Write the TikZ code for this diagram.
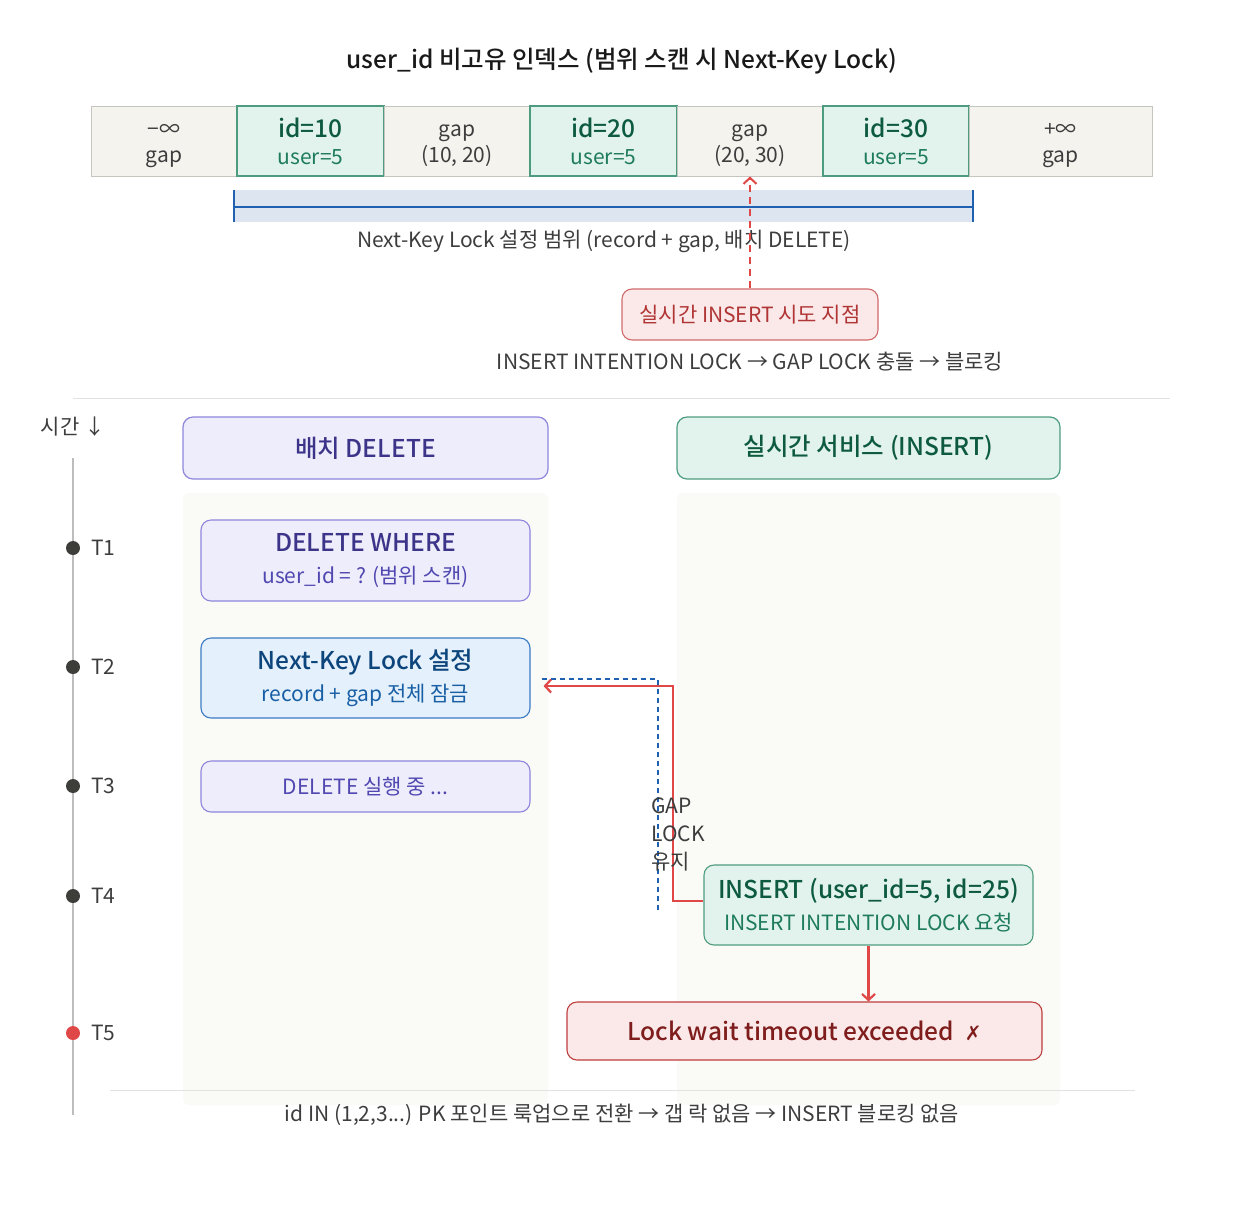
\documentclass[tikz,border=0pt]{standalone}
\usepackage{fontspec}
\setmainfont{Noto Sans CJK KR}[BoldFont={Noto Sans CJK KR Medium}]
\newfontfamily\symfont{DejaVu Sans}
\usepackage{tikz}
\usetikzlibrary{arrows.meta}

\definecolor{gapfill}{HTML}{F4F3EE}
\definecolor{cellline}{HTML}{C6C6C0}
\definecolor{keyfill}{HTML}{E1F3EC}
\definecolor{keyline}{HTML}{4E9C80}
\definecolor{keytxt}{HTML}{0D5A40}
\definecolor{keysub}{HTML}{1E7B5B}
\definecolor{bandfill}{HTML}{DCE5F0}
\definecolor{bandline}{HTML}{2060B0}
\definecolor{redfill}{HTML}{FBE9E9}
\definecolor{redline}{HTML}{D06A6A}
\definecolor{redtxt}{HTML}{B03535}
\definecolor{redarr}{HTML}{E04848}
\definecolor{darkred}{HTML}{7F1D1D}
\definecolor{purfill}{HTML}{EEEDFC}
\definecolor{purline}{HTML}{8E86DC}
\definecolor{purtxt}{HTML}{3C3489}
\definecolor{pursub}{HTML}{5048B0}
\definecolor{bluefill}{HTML}{E4F0FB}
\definecolor{blueline}{HTML}{3A7BC4}
\definecolor{bluetxt}{HTML}{0C447C}
\definecolor{bluesub}{HTML}{185FA5}
\definecolor{txtgray}{HTML}{3D3D3D}
\definecolor{lanefill}{HTML}{FAFAF6}
\definecolor{sepgray}{HTML}{E2E2E2}
\definecolor{axisgray}{HTML}{BDBDBD}
\definecolor{dotgray}{HTML}{3D3D3A}

\begin{document}
\begin{tikzpicture}[x=1pt,y=-1pt]
        \tikzset{gapcell/.style = {draw=cellline, fill=gapfill, line width=1pt, minimum height=70pt, inner sep=0pt, align=center, text=txtgray, font=\fontsize{21}{26}\selectfont}}
        \tikzset{keycell/.style = {draw=keyline, fill=keyfill, line width=1.2pt, minimum height=70pt, inner sep=0pt, align=center, text=keysub, font=\fontsize{21}{27}\selectfont}}
        \tikzset{lanehead/.style = {rounded corners=10pt, line width=1.2pt, minimum height=62pt, inner sep=0pt, align=center, font=\bfseries\fontsize{24.5}{28}\selectfont}}
        \tikzset{stepbox/.style = {rounded corners=10pt, line width=1.1pt, minimum width=329pt, inner sep=0pt, align=center, font=\fontsize{21}{32}\selectfont}}
        \tikzset{note/.style = {text=txtgray, font=\fontsize{21}{24}\selectfont, inner sep=0pt}}
        \tikzset{tick/.style = {text=txtgray, font=\fontsize{21}{24}\selectfont, anchor=west, inner sep=0pt}}
        \tikzset{redarrow/.style = {-{Straight Barb[length=6pt,width=13pt]}, line width=2.2pt, draw=redarr}}
        \tikzset{sep/.style = {draw=sepgray, line width=1pt}}
        \useasboundingbox (0,0) rectangle (1244,1208);

        % title
        \node[font=\bfseries\fontsize{24.5}{28}\selectfont, text=black!90] (title) at (622,61) {user\_id 비고유 인덱스 (범위 스캔 시 Next-Key Lock)};

        % index cells
        \node[gapcell, minimum width=146pt] (ninf) at (164,141) {\rule{0pt}{22pt}−∞\\gap};
        \node[keycell, minimum width=147pt] (id10) at (310.5,141) {{\bfseries\fontsize{24.5}{28}\selectfont\color{keytxt}id=10}\\user=5};
        \node[gapcell, minimum width=146pt] (g1020) at (457,141) {\rule{0pt}{22pt}gap\\(10, 20)};
        \node[keycell, minimum width=147pt] (id20) at (603.5,141) {{\bfseries\fontsize{24.5}{28}\selectfont\color{keytxt}id=20}\\user=5};
        \node[gapcell, minimum width=146pt] (g2030) at (750,141) {\rule{0pt}{22pt}gap\\(20, 30)};
        \node[keycell, minimum width=146pt] (id30) at (896,141) {{\bfseries\fontsize{24.5}{28}\selectfont\color{keytxt}id=30}\\user=5};
        \node[gapcell, minimum width=183pt] (pinf) at (1060.5,141) {\rule{0pt}{22pt}+∞\\gap};

        % lock range
        \fill[bandfill] (233,190) rectangle (973,222);
        \coordinate (rl) at (234,207);
        \coordinate (rr) at (973,207);
        \draw[bandline, line width=2pt] (rl) -- (rr);
        \draw[bandline, line width=2.5pt] (234,190) -- (234,222);
        \draw[bandline, line width=2.5pt] (973,190) -- (973,222);
        \node[note] (rangelbl) at (604,241) {Next-Key Lock 설정 범위 (record + gap, 배치 DELETE)};

        % insert point
        \node[draw=redline, fill=redfill, rounded corners=10pt, line width=1.1pt, minimum width=256pt, minimum height=51pt, inner sep=0pt, text=redtxt, font=\fontsize{21}{24}\selectfont] (ipt) at (750,314.5) {실시간 INSERT 시도 지점};
        \draw[redarrow, line width=2pt, dash pattern=on 7pt off 5pt] (ipt.north) -- (g2030.south);
        \node[note] (conflict) at (750,362) {INSERT INTENTION LOCK → GAP LOCK 충돌 → 블로킹};

        \draw[sep] (73,398) -- (1170,398);

        % time axis
        \node[note] (timelbl) at (73,427) {시간 ↓};
        \draw[axisgray, line width=2.5pt] (73,458) -- (73,1115);
        \foreach \y/\t in {548/T1, 667/T2, 786/T3, 896/T4} {
            \fill[dotgray] (73,\y) circle (7pt);
            \node[tick] (\t) at (91,\y) {\t};
        }
        \fill[redarr] (73,1033) circle (7pt);
        \node[tick] (T5) at (91,1033) {T5};

        % lanes
        \fill[lanefill, rounded corners=6pt] (183,493) rectangle (548,1105);
        \fill[lanefill, rounded corners=6pt] (677,493) rectangle (1060,1105);
        \node[lanehead, draw=purline, fill=purfill, text=purtxt, minimum width=365pt] (hdel) at (365.5,448) {배치 DELETE};
        \node[lanehead, draw=keyline, fill=keyfill, text=keytxt, minimum width=383pt] (hins) at (868.5,448) {실시간 서비스 (INSERT)};

        % batch delete steps
        \node[stepbox, draw=purline, fill=purfill, text=pursub, minimum height=81pt] (t1box) at (365.5,560.5) {{\bfseries\fontsize{24.5}{28}\selectfont\color{purtxt}DELETE WHERE}\\user\_id = ? (범위 스캔)};
        \node[stepbox, draw=blueline, fill=bluefill, text=bluesub, minimum height=80pt] (t2box) at (365.5,678) {{\bfseries\fontsize{24.5}{28}\selectfont\color{bluetxt}Next-Key Lock 설정}\\record + gap 전체 잠금};
        \node[stepbox, draw=purline, fill=purfill, text=pursub, minimum height=51pt] (t3box) at (365.5,786.5) {DELETE 실행 중 ...};

        % insert steps
        \node[stepbox, draw=keyline, fill=keyfill, text=keysub, minimum height=80pt] (t4box) at (868.5,905) {{\bfseries\fontsize{24.5}{28}\selectfont\color{keytxt}INSERT (user\_id=5, id=25)}\\INSERT INTENTION LOCK 요청};
        \node[draw=redarr!85!black, fill=redfill, rounded corners=10pt, line width=1.1pt, minimum width=475pt, minimum height=58pt, inner sep=0pt, text=darkred, font=\bfseries\fontsize{24.5}{28}\selectfont] (t5box) at (804.5,1031) {Lock wait timeout exceeded\ \ {\mdseries\symfont\fontsize{20}{24}\selectfont ✗}};

        % gap lock held
        \coordinate (hold) at (658,913);
        \draw[bandline, line width=1.5pt, dash pattern=on 5pt off 4pt] ([xshift=11pt,yshift=-1pt]t2box.east) -| (hold);
        \coordinate (turn) at (673,686);
        \draw[redarrow] ([yshift=4pt]t4box.west) -| (turn) -- ([xshift=13pt,yshift=-8pt]t2box.east);
        \node[note, anchor=west, align=left, font=\fontsize{21}{28}\selectfont] (holdlbl) at (651,834) {GAP\\LOCK\\유지};
        \draw[redarrow] (t4box.south) -- (t4box.south |- t5box.north);

        % footer
        \draw[sep] (110,1090) -- (1135,1090);
        \node[note] (footer) at (622,1115) {id IN (1,2,3...) PK 포인트 룩업으로 전환 → 갭 락 없음 → INSERT 블로킹 없음};
\end{tikzpicture}
\end{document}
